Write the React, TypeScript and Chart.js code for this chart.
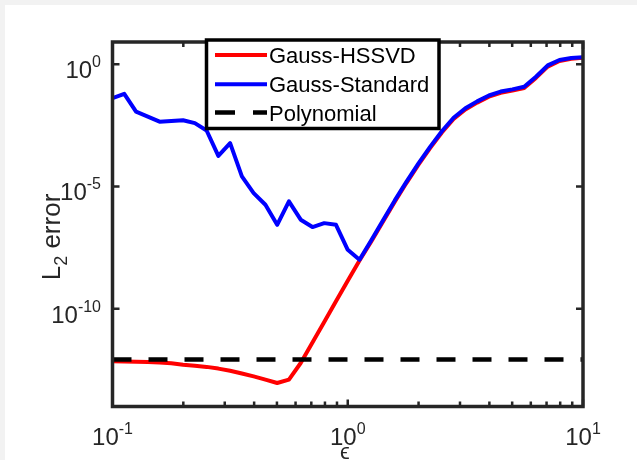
import React, { useEffect, useRef } from "react";
import { Chart, registerables } from "chart.js";

Chart.register(...registerables);

// ---------- data ----------
const epsilon = [
  0.1, 0.1122, 0.1259, 0.1413, 0.1585, 0.1778, 0.1995, 0.2239, 0.2512, 0.2818,
  0.3162, 0.3548, 0.3981, 0.4467, 0.5012, 0.5623, 0.631, 0.7079, 0.7943, 0.8913,
  1.0, 1.122, 1.259, 1.413, 1.585, 1.778, 1.995, 2.239, 2.512, 2.818,
  3.162, 3.548, 3.981, 4.467, 5.012, 5.623, 6.31, 7.079, 7.943, 8.913, 10,
];

const gaussHSSVD = [
  7.08e-13, 6.92e-13, 6.76e-13, 6.61e-13, 6.31e-13, 5.89e-13, 5.13e-13, 4.68e-13, 4.17e-13, 3.55e-13,
  2.88e-13, 2.24e-13, 1.7e-13, 1.26e-13, 9.12e-14, 1.26e-13, 6.03e-13, 4.17e-12, 2.88e-11, 2.0e-10,
  1.38e-9, 9.33e-9, 5.62e-8, 3.72e-7, 2.4e-6, 1.41e-5, 7.59e-5, 3.72e-4, 1.62e-3, 5.75e-3,
  1.41e-2, 2.69e-2, 4.68e-2, 6.76e-2, 8.32e-2, 1.07e-1, 2.75e-1, 7.94e-1, 1.35, 1.66, 1.86,
];

const gaussStandard = [
  4.07e-2, 6.17e-2, 1.15e-2, 7.24e-3, 4.47e-3, 4.79e-3, 5.13e-3, 3.89e-3, 1.95e-3, 1.78e-4,
  5.89e-4, 2.57e-5, 5.37e-6, 1.78e-6, 2.69e-7, 2.45e-6, 4.37e-7, 2.19e-7, 3.16e-7, 2.69e-7,
  2.57e-8, 1.0e-8, 6.31e-8, 4.17e-7, 2.69e-6, 1.58e-5, 8.51e-5, 4.17e-4, 1.82e-3, 6.46e-3,
  1.58e-2, 3.02e-2, 5.25e-2, 7.59e-2, 9.33e-2, 1.2e-1, 3.09e-1, 8.91e-1, 1.48, 1.78, 1.95,
];

const polyEpsilon = [0.1, 10];
const polynomial = [8.3e-13, 8.3e-13];

const xMajorTicks = [0.1, 1, 10];
const xMajorExp = ["-1", "0", "1"];
const xMinorTicks = [0.2, 0.3, 0.4, 0.5, 0.6, 0.7, 0.8, 0.9, 2, 3, 4, 5, 6, 7, 8, 9];
const yMajorTicks = [1, 1e-5, 1e-10];
const yMajorExp = ["0", "-5", "-10"];

const legendLabels = ["Gauss-HSSVD", "Gauss-Standard", "Polynomial"];

const FONT = '"Liberation Sans", Arial, Helvetica, sans-serif';
const AXIS = "#262626";

function drawPow(ctx: CanvasRenderingContext2D, exp: string, x: number, y: number, align: "center" | "right") {
  ctx.font = `24px ${FONT}`;
  const w1 = ctx.measureText("10").width;
  ctx.font = `16px ${FONT}`;
  const w2 = ctx.measureText(exp).width;
  const total = w1 + w2;
  const x0 = align === "center" ? x - total / 2 : x - total;
  ctx.textAlign = "left";
  ctx.textBaseline = "alphabetic";
  ctx.font = `24px ${FONT}`;
  ctx.fillText("10", x0, y);
  ctx.font = `16px ${FONT}`;
  ctx.fillText(exp, x0 + w1, y - 11);
}

const matlabPlugin = {
  id: "matlabDecor",
  beforeDraw(chart: any) {
    const ctx = chart.ctx as CanvasRenderingContext2D;
    ctx.save();
    ctx.fillStyle = "#f2f2f2";
    ctx.fillRect(0, 0, chart.width, chart.height);
    ctx.fillStyle = "#ffffff";
    ctx.fillRect(5, 5, chart.width - 5, chart.height - 5);
    ctx.restore();
  },
  afterDatasetsDraw(chart: any) {
    const ctx = chart.ctx as CanvasRenderingContext2D;
    const ca = chart.chartArea;
    const xs = chart.scales.x;
    const ys = chart.scales.y;
    ctx.save();
    ctx.strokeStyle = AXIS;
    ctx.lineCap = "butt";
    // ticks
    ctx.lineWidth = 2.5;
    const vtick = (v: number, len: number) => {
      const px = xs.getPixelForValue(v);
      ctx.beginPath();
      ctx.moveTo(px, ca.bottom);
      ctx.lineTo(px, ca.bottom - len);
      ctx.moveTo(px, ca.top);
      ctx.lineTo(px, ca.top + len);
      ctx.stroke();
    };
    xMajorTicks.forEach((v) => vtick(v, 7));
    xMinorTicks.forEach((v) => vtick(v, 5));
    yMajorTicks.forEach((v) => {
      const py = ys.getPixelForValue(v);
      ctx.beginPath();
      ctx.moveTo(ca.left, py);
      ctx.lineTo(ca.left + 7, py);
      ctx.moveTo(ca.right, py);
      ctx.lineTo(ca.right - 7, py);
      ctx.stroke();
    });
    // box
    ctx.lineWidth = 3.5;
    ctx.strokeRect(ca.left, ca.top, ca.right - ca.left, ca.bottom - ca.top);

    // tick labels
    ctx.fillStyle = AXIS;
    xMajorTicks.forEach((v, i) => {
      drawPow(ctx, xMajorExp[i], xs.getPixelForValue(v), 445, "center");
    });
    yMajorTicks.forEach((v, i) => {
      drawPow(ctx, yMajorExp[i], 101, ys.getPixelForValue(v) + 14, "right");
    });

    // x label
    ctx.font = `22px ${FONT}`;
    ctx.textAlign = "center";
    ctx.fillText("\u03f5", xs.getPixelForValue(1) - 3, 459);

    // y label
    ctx.save();
    ctx.translate(60, 237);
    ctx.rotate(-Math.PI / 2);
    ctx.font = `26px ${FONT}`;
    const wL = ctx.measureText("L").width;
    ctx.font = `18px ${FONT}`;
    const w2 = ctx.measureText("2").width;
    ctx.font = `26px ${FONT}`;
    const wE = ctx.measureText(" error").width;
    const tot = wL + w2 + wE;
    let u = -tot / 2;
    ctx.textAlign = "left";
    ctx.fillText("L", u, 0);
    u += wL;
    ctx.font = `18px ${FONT}`;
    ctx.fillText("2", u, 7);
    u += w2;
    ctx.font = `26px ${FONT}`;
    ctx.fillText(" error", u, 0);
    ctx.restore();

    // legend
    const lx0 = 206.5, ly0 = 40, lx1 = 439, ly1 = 128.5;
    ctx.fillStyle = "#ffffff";
    ctx.fillRect(lx0, ly0, lx1 - lx0, ly1 - ly0);
    ctx.strokeStyle = "#000000";
    ctx.lineWidth = 3.5;
    ctx.strokeRect(lx0, ly0, lx1 - lx0, ly1 - ly0);
    const rows = [55, 84.3, 112.5];
    const cols = ["#ff0000", "#0000ff", "#000000"];
    rows.forEach((ry, i) => {
      ctx.strokeStyle = cols[i];
      ctx.lineWidth = i === 2 ? 4.5 : 4;
      ctx.beginPath();
      if (i === 2) {
        ctx.moveTo(215, ry);
        ctx.lineTo(235, ry);
        ctx.moveTo(253, ry);
        ctx.lineTo(267, ry);
      } else {
        ctx.moveTo(215, ry);
        ctx.lineTo(267, ry);
      }
      ctx.stroke();
      ctx.fillStyle = "#000000";
      ctx.font = `22px ${FONT}`;
      ctx.textAlign = "left";
      ctx.textBaseline = "alphabetic";
      ctx.fillText(legendLabels[i], 269, ry + 8);
    });
    ctx.restore();
  },
};

export default function App() {
  const ref = useRef<HTMLCanvasElement | null>(null);
  useEffect(() => {
    if (!ref.current) return;
    const chart = new Chart(ref.current, {
      type: "scatter",
      data: {
        datasets: [
          {
            label: legendLabels[2],
            data: polyEpsilon.map((x, i) => ({ x, y: polynomial[i] })),
            showLine: true,
            borderColor: "#000000",
            borderWidth: 4.5,
            borderDash: [19, 17],
            borderCapStyle: "butt",
            pointRadius: 0,
          },
          {
            label: legendLabels[1],
            data: epsilon.map((x, i) => ({ x, y: gaussStandard[i] })),
            showLine: true,
            borderColor: "#0000ff",
            borderWidth: 4,
            borderJoinStyle: "round",
            pointRadius: 0,
          },
          {
            label: legendLabels[0],
            data: epsilon.map((x, i) => ({ x, y: gaussHSSVD[i] })),
            showLine: true,
            borderColor: "#ff0000",
            borderWidth: 4,
            borderJoinStyle: "round",
            pointRadius: 0,
          },
        ],
      },
      options: {
        animation: false,
        responsive: false,
        devicePixelRatio: 1,
        layout: { padding: { left: 112.5, right: 54, top: 42, bottom: 53.5 } },
        plugins: { legend: { display: false }, tooltip: { enabled: false } },
        scales: {
          x: { type: "logarithmic", min: 0.1, max: 10, display: false },
          y: { type: "logarithmic", min: 1e-14, max: 8.1, display: false },
        },
      } as any,
      plugins: [matlabPlugin as any],
    });
    return () => chart.destroy();
  }, []);
  return (
    <div style={{ position: "absolute", left: 0, top: 0, width: 637, height: 460 }}>
      <canvas ref={ref} width={637} height={460} />
    </div>
  );
}
